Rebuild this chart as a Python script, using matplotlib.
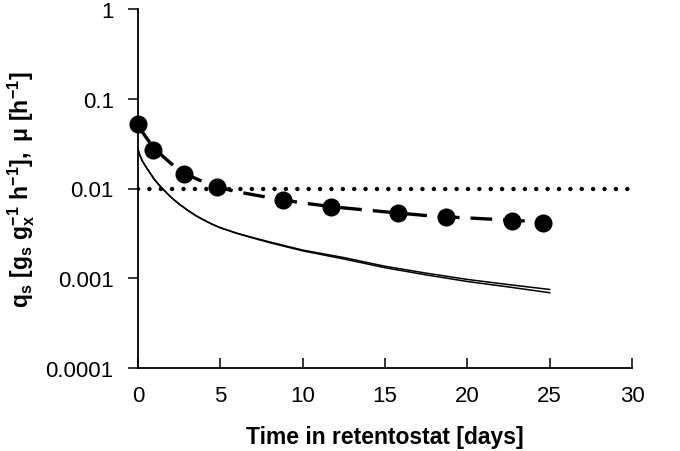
import matplotlib.pyplot as plt
import numpy as np

plt.rcParams['font.family'] = ['Liberation Sans', 'DejaVu Sans']
plt.rcParams['mathtext.fontset'] = 'custom'
plt.rcParams['mathtext.rm'] = 'Liberation Sans:bold'
plt.rcParams['mathtext.bf'] = 'Liberation Sans:bold'
plt.rcParams['mathtext.it'] = 'Liberation Sans:bold'

# measured qs (points)
days = [0, 0.9, 2.8, 4.8, 8.8, 11.7, 15.8, 18.7, 22.7, 24.6]
qs = [0.052, 0.027, 0.0144, 0.0103, 0.0074, 0.0063, 0.0053, 0.0048, 0.0044, 0.0041]

# fitted qs (dashed)
fit_t = [0, 0.25, 0.5, 0.75, 1, 1.5, 2, 2.5, 3, 4, 5, 6, 8, 10, 12, 15, 18, 21, 25]
fit_qs = [0.052, 0.043, 0.037, 0.032, 0.028, 0.023, 0.019, 0.0163, 0.0142,
          0.0118, 0.0102, 0.0092, 0.0079, 0.0069, 0.0062, 0.0055, 0.0049,
          0.0046, 0.0042]

# growth rate curves (solid)
mu_t = [0, 0.1, 0.25, 0.5, 0.75, 1, 1.25, 1.5, 2, 2.5, 3, 3.5, 4, 4.5, 5, 6,
        7, 8, 10, 12.5, 15, 17.5, 20, 22.5, 25]
mu_1 = [0.027, 0.0238, 0.0205, 0.0172, 0.0147, 0.0126, 0.0111, 0.0099, 0.0080,
        0.0067, 0.00575, 0.0050, 0.00445, 0.0040, 0.00366, 0.00318, 0.00283,
        0.00254, 0.00206, 0.0017, 0.00136, 0.00114, 0.00097, 0.00085, 0.00075]
mu_2 = [0.027, 0.0238, 0.0205, 0.0172, 0.0147, 0.0126, 0.0111, 0.0099, 0.0080,
        0.0067, 0.00575, 0.0050, 0.00445, 0.0040, 0.00365, 0.00316, 0.00280,
        0.00249, 0.00202, 0.00164, 0.00131, 0.00109, 0.00092, 0.00080, 0.00069]

# mu max line (dotted)
dot_t = [0, 30]
dot_v = [0.01, 0.01]

fig = plt.figure(figsize=(6.8, 4.52), dpi=100)
ax = fig.add_axes([138/680, 1 - 369/452, 494/680, 359/452])

ax.plot(dot_t, dot_v, color='black', lw=3.2, linestyle=(0, (0.01, 2.55)),
        dash_capstyle='round')
ax.plot(mu_t, mu_1, color='black', lw=1.1)
ax.plot(mu_t, mu_2, color='black', lw=1.1)
ax.plot(fit_t, fit_qs, color='black', lw=2.4, linestyle=(0, (6.5, 3.3)))
ax.plot(days, qs, 'o', color='black', markersize=12, clip_on=False)

ax.set_yscale('log')
ax.set_ylim(0.0001, 1)
ax.set_xlim(0, 30)
ax.set_xticks([0, 5, 10, 15, 20, 25, 30])
ax.set_yticks([0.0001, 0.001, 0.01, 0.1, 1])
ax.set_yticklabels(['0.0001', '0.001', '0.01', '0.1', '1'])
ax.minorticks_off()

ax.spines['top'].set_visible(False)
ax.spines['right'].set_visible(False)
ax.spines['left'].set_linewidth(1.3)
ax.spines['bottom'].set_linewidth(1.3)
ax.tick_params(axis='y', direction='out', length=7.5, width=1.1, pad=10,
               labelsize=16)
ax.tick_params(axis='x', direction='in', length=7.5, width=1.1, pad=12,
               labelsize=16)

ax.set_xlabel('Time in retentostat [days]', fontsize=16.5, fontweight='bold',
              labelpad=14)
ax.set_ylabel(r'$\mathbf{q_s\ [g_s\ g_x^{-1}\ h^{-1}],\ \mu\ [h^{-1}]}$',
              fontsize=16.5, labelpad=6)

fig.savefig('out.png', dpi=100)
